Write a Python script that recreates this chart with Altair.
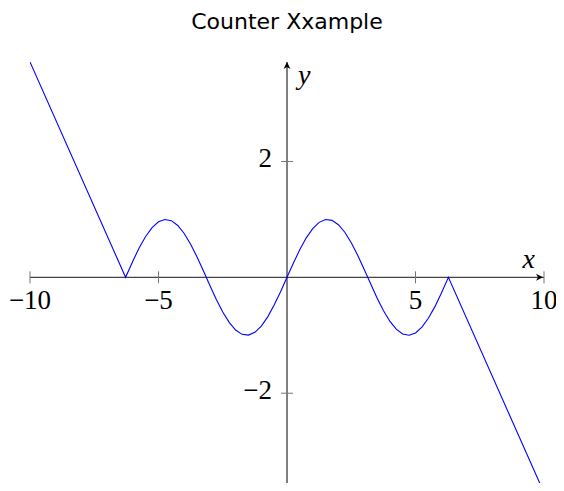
import altair as alt
import pandas as pd

TITLE = "Counter Xxample"

# curve samples
curve_x = [-10, -6.28, -6.0, -5.75, -5.5, -5.25, -5.0, -4.75, -4.5, -4.25, -4.0,
           -3.75, -3.5, -3.25, -3.0, -2.75, -2.5, -2.25, -2.0, -1.75, -1.5, -1.25,
           -1.0, -0.75, -0.5, -0.25, 0.0, 0.25, 0.5, 0.75, 1.0, 1.25, 1.5, 1.75,
           2.0, 2.25, 2.5, 2.75, 3.0, 3.25, 3.5, 3.75, 4.0, 4.25, 4.5, 4.75, 5.0,
           5.25, 5.5, 5.75, 6.0, 6.28, 10]
curve_y = [3.717, 0.0, 0.279, 0.510, 0.706, 0.859, 0.959, 0.999, 0.978, 0.895, 0.757,
           0.572, 0.351, 0.108, -0.141, -0.382, -0.598, -0.778, -0.909, -0.984, -0.997, -0.949,
           -0.841, -0.682, -0.479, -0.247, 0.0, 0.247, 0.479, 0.682, 0.841, 0.949, 0.997, 0.984,
           0.909, 0.778, 0.598, 0.382, 0.141, -0.108, -0.351, -0.572, -0.757, -0.895, -0.978, -0.999, -0.959,
           -0.859, -0.706, -0.510, -0.279, 0.0, -3.717]

x_ticks = [-10, -5, 5, 10]
x_tick_labels = ["\u221210", "\u22125", "5", "10"]
y_ticks = [-2, 2]
y_tick_labels = ["\u22122", "2"]
x_min, x_max = -10, 10
y_min, y_max = -3.55, 3.717
x_title, y_title = "x", "y"

curve = pd.DataFrame({"x": curve_x, "y": curve_y})
xt = pd.DataFrame({"x": x_ticks, "y": [0] * len(x_ticks), "label": x_tick_labels})
yt = pd.DataFrame({"x": [0] * len(y_ticks), "y": y_ticks, "label": y_tick_labels})
xaxis = pd.DataFrame({"x": [x_min], "x2": [x_max], "y": [0]})
yaxis = pd.DataFrame({"x": [0], "y": [y_min], "y2": [y_max]})
xarrow = pd.DataFrame({"x": [x_max], "y": [0]})
yarrow = pd.DataFrame({"x": [0], "y": [y_max]})
xlab = pd.DataFrame({"x": [x_max], "y": [0], "t": [x_title]})
ylab = pd.DataFrame({"x": [0], "y": [y_max], "t": [y_title]})

xs = alt.Scale(domain=[x_min, x_max], nice=False, zero=False)
ys = alt.Scale(domain=[y_min, y_max], nice=False, zero=False)
X = lambda f="x": alt.X(f, type="quantitative", scale=xs, axis=None)
Y = lambda f="y": alt.Y(f, type="quantitative", scale=ys, axis=None)

serif = "Liberation Serif"

line = alt.Chart(curve).mark_line(color="#0000ff", strokeWidth=1.1, clip=True).encode(
    x=X(), y=Y(), order="x:Q")

xrule = alt.Chart(xaxis).mark_rule(color="#444444", strokeWidth=1.3).encode(
    x=X(), x2="x2", y=Y())
yrule = alt.Chart(yaxis).mark_rule(color="#000000", strokeWidth=1).encode(
    x=X(), y=Y(), y2="y2")

xtick = alt.Chart(xt).mark_point(shape="M0,-1L0,1", size=144, filled=False,
                                 stroke="#777777", strokeWidth=1, opacity=1).encode(x=X(), y=Y())
ytick = alt.Chart(yt).mark_point(shape="M-1,0L1,0", size=144, filled=False,
                                 stroke="#777777", strokeWidth=1, opacity=1).encode(x=X(), y=Y())

xtext = alt.Chart(xt).mark_text(font=serif, fontSize=27, baseline="alphabetic",
                                align="center", dy=32, color="black").encode(
    x=X(), y=Y(), text="label")
ytext = alt.Chart(yt).mark_text(font=serif, fontSize=27, baseline="alphabetic",
                                align="right", dx=-15, dy=6, color="black").encode(
    x=X(), y=Y(), text="label")

xa = alt.Chart(xarrow).mark_point(shape="M-1,0L-8,-3.5L-6,0L-8,3.5Z", size=4, filled=True,
                                  fill="black", strokeWidth=0, opacity=1).encode(x=X(), y=Y())
ya = alt.Chart(yarrow).mark_point(shape="M0,0L-3.5,7L0,5L3.5,7Z", size=4, filled=True,
                                  fill="black", strokeWidth=0, opacity=1).encode(x=X(), y=Y())

xl = alt.Chart(xlab).mark_text(font=serif, fontStyle="italic", fontSize=28, align="right",
                               baseline="alphabetic", dx=-9, dy=-9, color="black").encode(
    x=X(), y=Y(), text="t")
yl = alt.Chart(ylab).mark_text(font=serif, fontStyle="italic", fontSize=28, align="left",
                               baseline="alphabetic", dx=11, dy=22, color="black").encode(
    x=X(), y=Y(), text="t")

chart = alt.layer(xrule, yrule, xtick, ytick, line, xa, ya, xtext, ytext, xl, yl).properties(
    width=514, height=421,
    title=alt.TitleParams(TITLE, font="DejaVu Sans", fontSize=22, fontWeight="normal",
                          color="black", anchor="middle", frame="group",
                          baseline="alphabetic", offset=11),
    padding={"left": 22, "top": 54, "right": 12, "bottom": 0},
    autosize=alt.AutoSizeParams(type="none"),
    background="white",
).configure_view(stroke=None)

chart.save("out.html", embed_options={"renderer": "svg", "actions": False})
